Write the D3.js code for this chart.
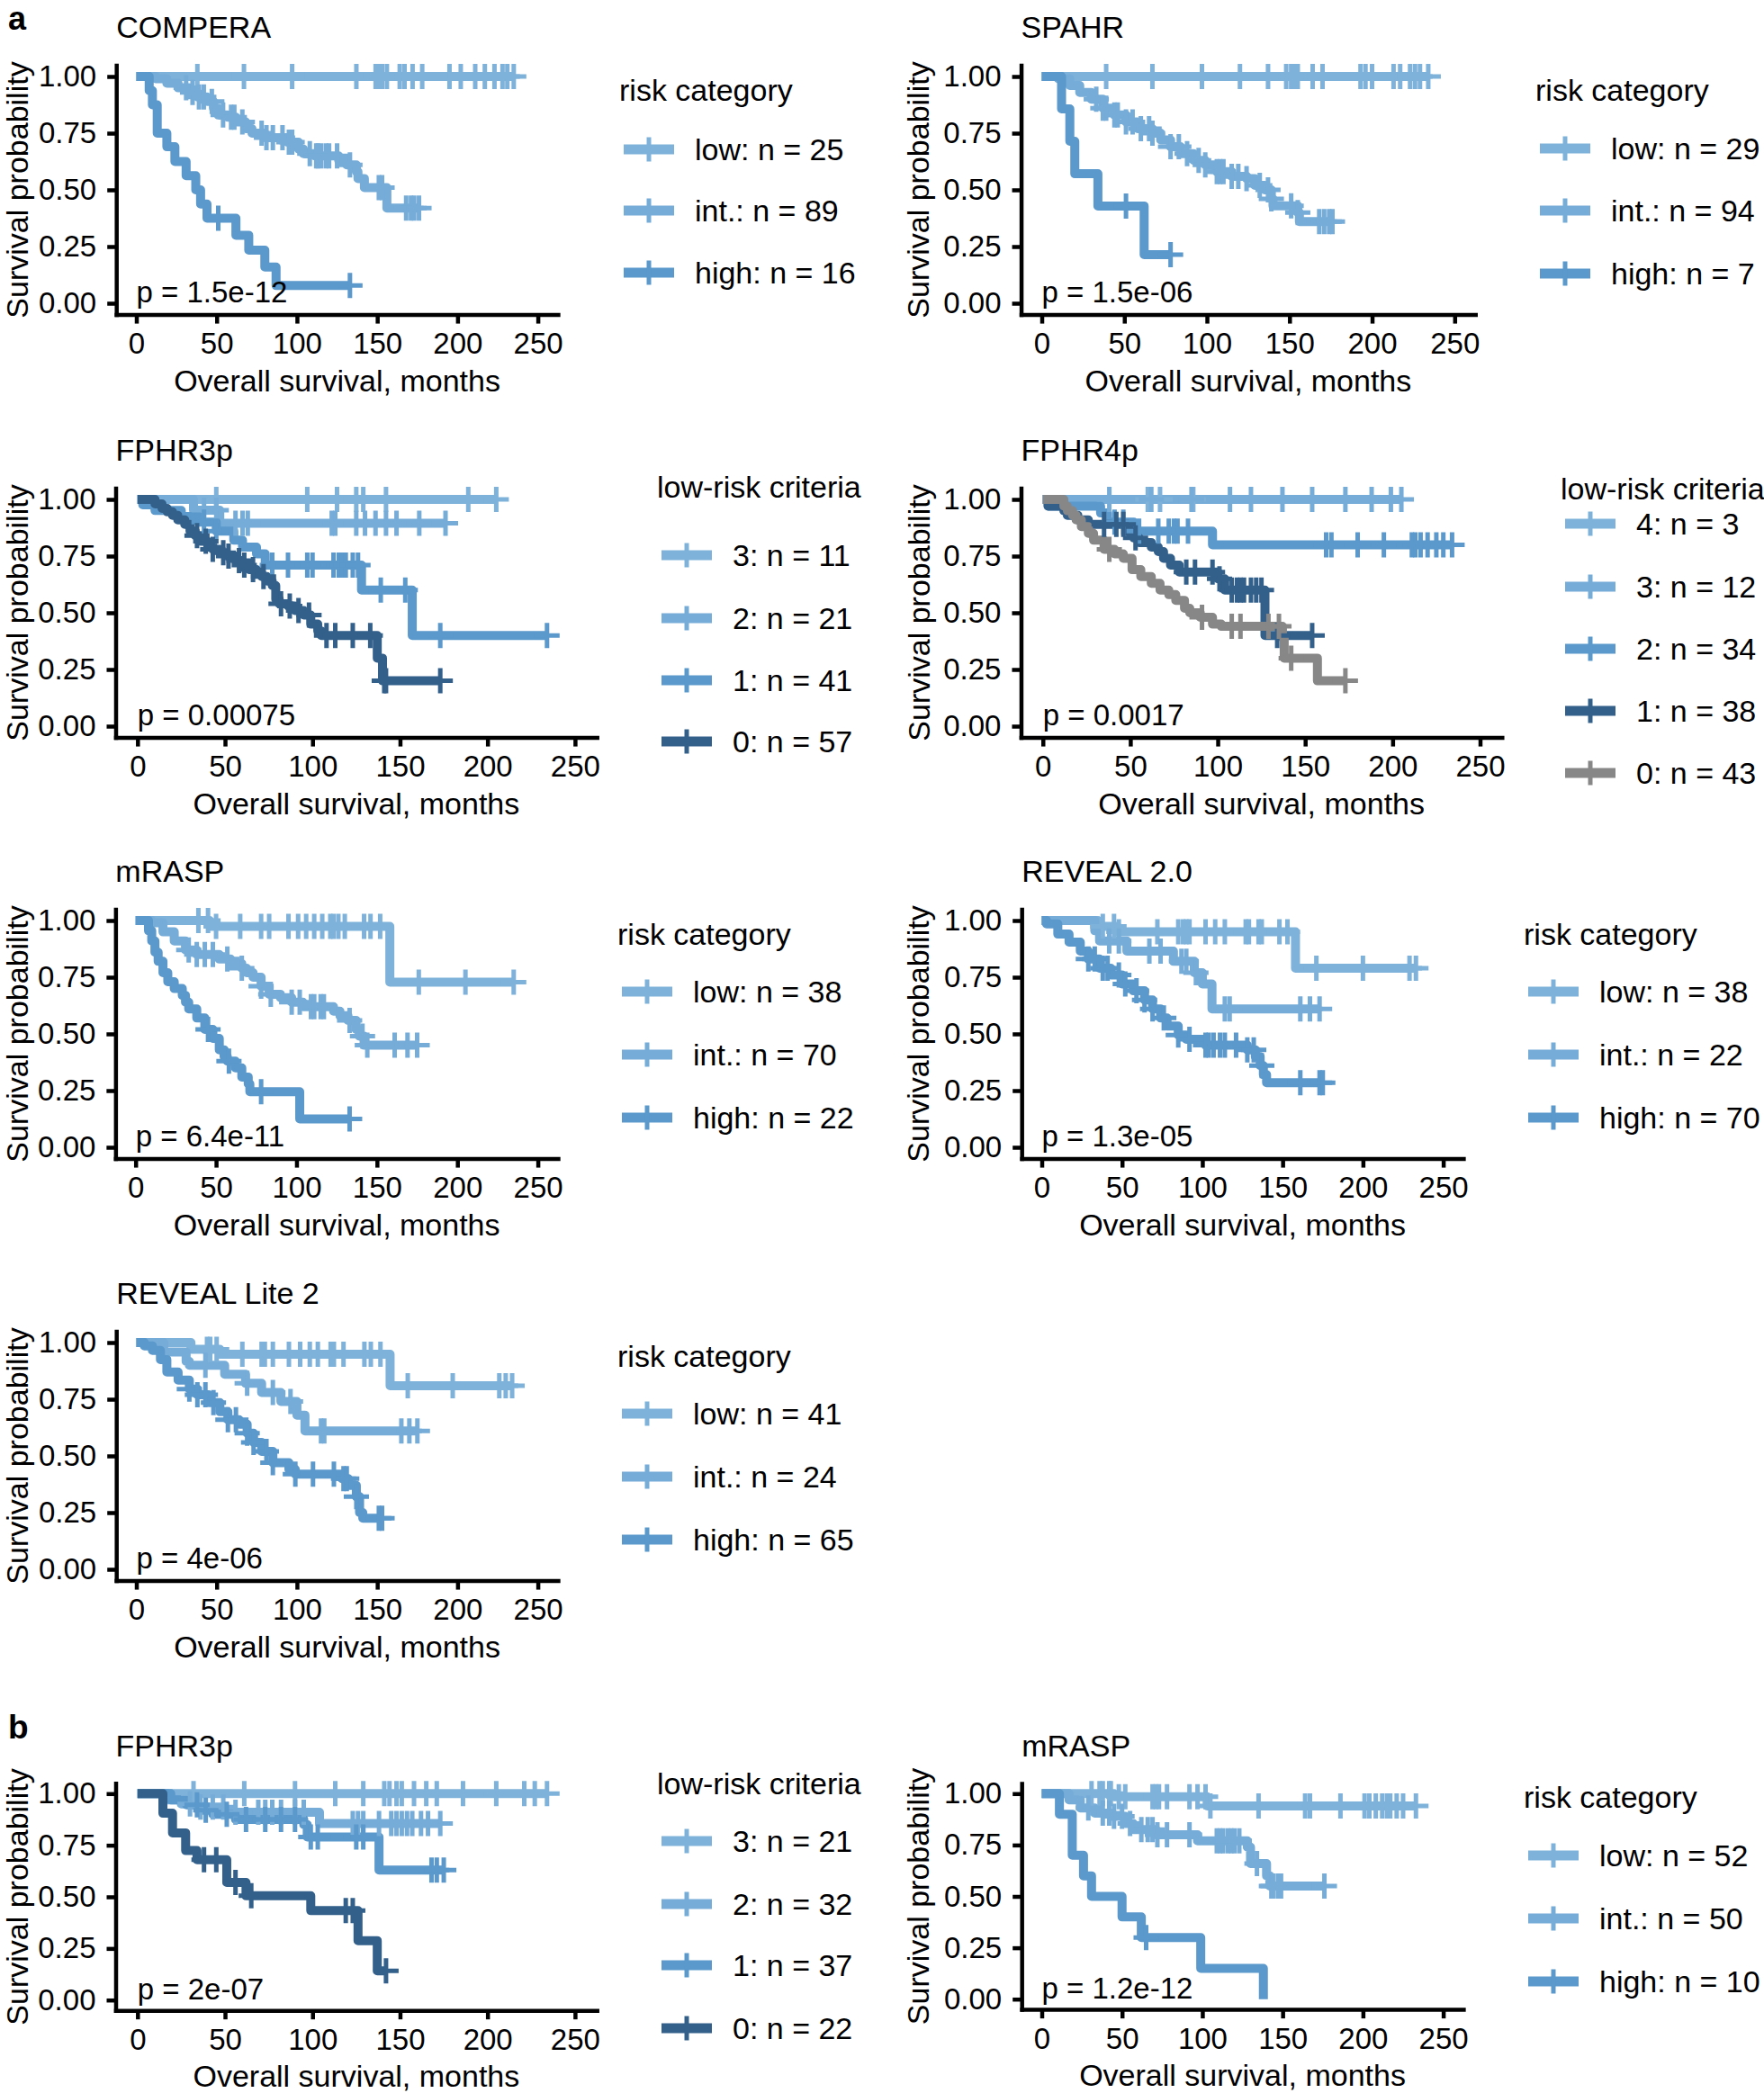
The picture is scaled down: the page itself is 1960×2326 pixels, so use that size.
<!DOCTYPE html>
<html><head><meta charset="utf-8">
<script src="https://cdn.jsdelivr.net/npm/d3@7"></script>
<style>
body{margin:0;background:#fff}
svg{display:block}
text{font-family:"Liberation Sans",Arial,Helvetica,sans-serif;fill:#000}
</style>
</head><body>
<svg id="c" width="1960" height="2326"></svg>
<script>
// ---------------- DATA ----------------
const xTicks = [0, 50, 100, 150, 200, 250];
const yTicks = [0, 0.25, 0.5, 0.75, 1];
const riskColors = ["#7fb2da", "#76acd8", "#5b98cb"];
const crit3Colors = ["#7fb2da", "#76acd8", "#5b98cb", "#33608b"];
const crit4Colors = ["#7fb2da", "#76acd8", "#5b98cb", "#33608b", "#878787"];

// COMPERA
const compera_labels = ["low: n = 25", "int.: n = 89", "high: n = 16"];
const compera_low_steps = [];
const compera_low_cens = [38,67,97,137,149,151,153,156,164,167,172,178,195,202,211,217,223,228,231,235];
const compera_int_steps = [[12,0.99],[19,0.97],[26,0.95],[33,0.93],[38,0.91],[44,0.89],[48,0.86],[51,0.83],[57,0.82],[62,0.80],[68,0.77],[72,0.75],[80,0.73],[94,0.71],[101,0.68],[104,0.66],[111,0.65],[126,0.63],[131,0.61],[137,0.58],[138,0.55],[142,0.51],[156,0.42]];
const compera_int_cens = [31,35,39,42,47,54,59,61,66,78,81,85,91,95,97,108,112,113,115,118,120,125,133,151,153,168,171,173,176];
const compera_high_steps = [[8,0.9375],[10,0.875],[13,0.75],[19,0.69],[24,0.625],[31,0.5625],[37,0.5],[40,0.4375],[44,0.375],[62,0.30],[70,0.234],[80,0.16],[87,0.078]];
const compera_high_cens = [51,133];

// SPAHR
const spahr_labels = ["low: n = 29", "int.: n = 94", "high: n = 7"];
const spahr_low_steps = [];
const spahr_low_cens = [39,67,97,120,137,148,151,153,155,164,170,193,196,200,213,217,223,226,229,234];
const spahr_int_steps = [[10,0.99],[17,0.96],[23,0.93],[30,0.90],[37,0.86],[44,0.83],[51,0.80],[58,0.77],[67,0.75],[72,0.72],[78,0.69],[84,0.66],[92,0.63],[99,0.61],[106,0.58],[115,0.56],[124,0.55],[129,0.52],[135,0.50],[139,0.46],[140,0.43],[155,0.40],[156,0.36]];
const spahr_int_cens = [33,37,39,44,46,51,55,60,65,67,78,83,88,95,99,106,108,110,115,119,124,132,137,139,151,155,168,171,174,176];
const spahr_high_steps = [[12,0.857],[17,0.714],[20,0.571],[34,0.429],[62,0.214]];
const spahr_high_cens = [51,78];

// FPHR3p (a)
const f3_labels = ["3: n = 11", "2: n = 21", "1: n = 41", "0: n = 57"];
const f3_c3_steps = [];
const f3_c3_cens = [45,97,114,125,129,142,189,205];
const f3_c2_steps = [[32,0.952],[47,0.895]];
const f3_c2_cens = [38,45,56,60,63,111,113,125,130,136,142,148,161,176];
const f3_c1_steps = [[3,0.976],[10,0.951],[25,0.925],[35,0.90],[45,0.86],[55,0.82],[60,0.79],[68,0.76],[73,0.71],[128,0.60],[157,0.40]];
const f3_c1_cens = [38,45,77,86,97,100,112,115,117,119,123,126,139,153,173,234];
const f3_c0_steps = [[10,0.98],[14,0.96],[17,0.945],[20,0.93],[23,0.91],[27,0.89],[30,0.86],[33,0.84],[36,0.815],[40,0.80],[43,0.78],[47,0.765],[51,0.75],[56,0.73],[60,0.71],[64,0.69],[68,0.675],[71,0.66],[74,0.64],[77,0.62],[79,0.56],[81,0.54],[86,0.53],[90,0.51],[95,0.49],[99,0.45],[103,0.42],[105,0.40],[137,0.30],[140,0.20]];
const f3_c0_cens = [34,39,43,49,52,58,61,66,72,82,87,92,98,108,113,123,133,141,142,173];

// FPHR4p
const f4_labels = ["4: n = 3", "3: n = 12", "2: n = 34", "1: n = 38", "0: n = 43"];
const f4_c4_steps = [];
const f4_c4_cens = [60,67,86];
const f4_c3_steps = [];
const f4_c3_cens = [38,62,85,107,119,137,154,173,188,199,205];
const f4_c2_steps = [[3,0.97],[33,0.94],[37,0.90],[52,0.86],[97,0.80]];
const f4_c2_cens = [41,46,55,66,72,75,77,83,162,165,180,195,211,213,216,220,225,229,234];
const f4_c1_steps = [[3,0.97],[12,0.95],[14,0.93],[20,0.91],[26,0.89],[49,0.855],[52,0.83],[55,0.81],[62,0.79],[66,0.77],[69,0.74],[73,0.71],[78,0.68],[100,0.65],[104,0.60],[127,0.40]];
const f4_c1_cens = [35,42,46,53,82,87,97,101,108,111,113,115,119,122,125,134,154];
const f4_c0_steps = [[12,0.97],[14,0.95],[17,0.93],[19,0.91],[22,0.88],[26,0.85],[29,0.82],[35,0.78],[41,0.76],[46,0.74],[51,0.69],[56,0.66],[62,0.63],[67,0.60],[72,0.58],[76,0.555],[81,0.52],[84,0.50],[90,0.48],[97,0.45],[102,0.44],[137,0.39],[138,0.30],[157,0.20]];
const f4_c0_cens = [38,91,108,113,129,135,142,173];

// mRASP (a)
const mr_labels = ["low: n = 38", "int.: n = 70", "high: n = 22"];
const mr_low_steps = [[46,0.974],[158,0.728]];
const mr_low_cens = [39,45,50,65,78,83,95,101,106,111,116,121,123,126,130,142,146,152,176,205,235];
const mr_int_steps = [[10,0.99],[17,0.95],[24,0.91],[31,0.87],[38,0.85],[52,0.83],[59,0.81],[66,0.79],[69,0.77],[73,0.75],[78,0.71],[83,0.675],[90,0.66],[97,0.64],[104,0.62],[123,0.60],[127,0.58],[132,0.56],[137,0.52],[139,0.49],[142,0.45]];
const mr_int_cens = [33,38,43,48,57,66,78,84,97,102,109,111,115,117,133,141,144,161,169,175];
const mr_high_steps = [[8,0.955],[10,0.91],[12,0.86],[14,0.82],[17,0.77],[20,0.73],[24,0.70],[29,0.67],[31,0.64],[33,0.61],[38,0.57],[43,0.52],[48,0.48],[52,0.43],[55,0.40],[57,0.38],[62,0.35],[66,0.31],[70,0.28],[71,0.245],[102,0.125]];
const mr_high_cens = [45,58,78,133];

// REVEAL 2.0
const r2_labels = ["low: n = 38", "int.: n = 22", "high: n = 70"];
const r2_low_steps = [[35,0.974],[47,0.95],[158,0.79]];
const r2_low_cens = [38,45,48,72,85,88,90,92,102,108,114,127,129,135,137,148,153,171,200,229,233];
const r2_int_steps = [[33,0.955],[36,0.91],[53,0.865],[82,0.82],[95,0.77],[100,0.72],[106,0.61]];
const r2_int_cens = [42,48,67,74,87,90,96,114,117,161,167,173];
const r2_high_steps = [[3,0.985],[10,0.94],[17,0.905],[24,0.865],[29,0.83],[36,0.79],[43,0.76],[50,0.72],[57,0.69],[64,0.65],[69,0.61],[74,0.57],[78,0.535],[85,0.495],[90,0.476],[102,0.45],[128,0.43],[133,0.40],[136,0.36],[138,0.32],[140,0.285]];
const r2_high_cens = [29,33,38,41,48,52,59,64,69,76,85,92,102,104,107,111,114,121,128,132,137,161,173,175];

// REVEAL Lite 2
const rl_labels = ["low: n = 41", "int.: n = 24", "high: n = 65"];
const rl_low_steps = [[34,0.97],[52,0.948],[158,0.81]];
const rl_low_cens = [44,46,50,66,78,80,85,95,102,108,113,121,123,129,142,146,152,169,197,226,230,234];
const rl_int_steps = [[17,0.958],[31,0.917],[33,0.90],[55,0.86],[68,0.82],[78,0.78],[90,0.74],[100,0.68],[105,0.61]];
const rl_int_cens = [43,69,85,96,115,117,165,170,175];
const rl_high_steps = [[5,0.985],[10,0.965],[15,0.925],[19,0.87],[26,0.834],[33,0.795],[38,0.77],[45,0.735],[52,0.695],[57,0.66],[64,0.64],[69,0.60],[73,0.56],[78,0.52],[85,0.47],[95,0.44],[99,0.42],[128,0.40],[132,0.37],[137,0.32],[139,0.25],[141,0.225]];
const rl_high_cens = [33,38,43,48,57,62,69,73,81,85,99,110,123,129,131,137,151,153];

// FPHR3p (b)
const b3_labels = ["3: n = 21", "2: n = 32", "1: n = 37", "0: n = 22"];
const b3_c3_steps = [];
const b3_c3_cens = [32,61,90,113,129,141,144,148,151,158,165,171,186,205,221,227,234];
const b3_c2_steps = [[17,0.97],[25,0.95],[35,0.935],[50,0.91],[104,0.855]];
const b3_c2_cens = [30,36,43,49,56,69,73,77,82,90,95,123,126,129,138,145,148,151,154,157,162,166,173];
const b3_c1_steps = [[19,0.97],[28,0.946],[35,0.92],[43,0.90],[56,0.875],[95,0.85],[97,0.79],[138,0.63]];
const b3_c1_cens = [34,39,51,62,73,82,90,99,103,125,129,168,171,175];
const b3_c0_steps = [[14.5,0.905],[20,0.81],[27.5,0.724],[34,0.68],[51,0.57],[62,0.505],[99,0.433],[126,0.288],[137,0.142]];
const b3_c0_cens = [38,45,56,65,119,123,142];

// mRASP (b)
const bm_labels = ["low: n = 52", "int.: n = 50", "high: n = 10"];
const bm_low_steps = [[45,0.985],[103,0.94]];
const bm_low_cens = [31,36,38,42,43,48,52,69,71,73,78,92,97,102,105,135,164,167,186,201,204,208,212,215,217,221,225,233];
const bm_int_steps = [[17,0.97],[24,0.93],[33,0.905],[43,0.89],[52,0.855],[57,0.825],[71,0.80],[97,0.77],[128,0.74],[130,0.66],[140,0.60],[142,0.55]];
const bm_int_cens = [29,38,42,45,50,55,62,66,69,72,78,92,109,111,113,116,118,120,123,134,143,144,147,149,176];
const bm_high_steps = [[11,0.9],[19,0.7],[26,0.6],[31,0.5],[50,0.4],[62,0.3],[99,0.15],[138,0]];
const bm_high_cens = [65];

// ---------------- LAYOUT ----------------
const panels = [
  {title:"COMPERA", p:"p = 1.5e-12", x0:151.5, x250:597.6, y1:85, y0:337, ytx:31,
   legTitle:"risk category", labels:compera_labels, colors:riskColors,
   curves:[[compera_low_steps,compera_low_cens],[compera_int_steps,compera_int_cens],[compera_high_steps,compera_high_cens]],
   leg:{x:688, ty:112, items:[166,234,303]}},
  {title:"SPAHR", p:"p = 1.5e-06", x0:1157.5, x250:1616.3, y1:85, y0:337, ytx:1032,
   legTitle:"risk category", labels:spahr_labels, colors:riskColors,
   curves:[[spahr_low_steps,spahr_low_cens],[spahr_int_steps,spahr_int_cens],[spahr_high_steps,spahr_high_cens]],
   leg:{x:1706, ty:112, items:[165,234,304]}},
  {title:"FPHR3p", p:"p = 0.00075", x0:152.8, x250:638.9, y1:555, y0:807, ytx:31,
   legTitle:"low-risk criteria", labels:f3_labels, colors:crit3Colors,
   curves:[[f3_c3_steps,f3_c3_cens],[f3_c2_steps,f3_c2_cens],[f3_c1_steps,f3_c1_cens],[f3_c0_steps,f3_c0_cens]],
   leg:{x:730, ty:553, items:[617,687,756,824]}},
  {title:"FPHR4p", p:"p = 0.0017", x0:1158.75, x250:1644.5, y1:555, y0:807, ytx:1033,
   legTitle:"low-risk criteria", labels:f4_labels, colors:crit4Colors,
   curves:[[f4_c4_steps,f4_c4_cens],[f4_c3_steps,f4_c3_cens],[f4_c2_steps,f4_c2_cens],[f4_c1_steps,f4_c1_cens],[f4_c0_steps,f4_c0_cens]],
   leg:{x:1734, ty:555, items:[582,652,721,790,859]}},
  {title:"mRASP", p:"p = 6.4e-11", x0:150.7, x250:597.6, y1:1023, y0:1275, ytx:31,
   legTitle:"risk category", labels:mr_labels, colors:riskColors,
   curves:[[mr_low_steps,mr_low_cens],[mr_int_steps,mr_int_cens],[mr_high_steps,mr_high_cens]],
   leg:{x:686, ty:1050, items:[1102,1172,1242]}},
  {title:"REVEAL 2.0", p:"p = 1.3e-05", x0:1157.5, x250:1603.6, y1:1023, y0:1275, ytx:1032,
   legTitle:"risk category", labels:r2_labels, colors:riskColors,
   curves:[[r2_low_steps,r2_low_cens],[r2_int_steps,r2_int_cens],[r2_high_steps,r2_high_cens]],
   leg:{x:1693, ty:1050, items:[1102,1172,1242]}},
  {title:"REVEAL Lite 2", p:"p = 4e-06", x0:151.5, x250:597.6, y1:1492, y0:1744, ytx:31,
   legTitle:"risk category", labels:rl_labels, colors:riskColors,
   curves:[[rl_low_steps,rl_low_cens],[rl_int_steps,rl_int_cens],[rl_high_steps,rl_high_cens]],
   leg:{x:686, ty:1519, items:[1571,1641,1711]}},
  {title:"FPHR3p", p:"p = 2e-07", x0:152.8, x250:638.9, y1:1993.3, y0:2222.7, ytx:31,
   legTitle:"low-risk criteria", labels:b3_labels, colors:crit3Colors,
   curves:[[b3_c3_steps,b3_c3_cens],[b3_c2_steps,b3_c2_cens],[b3_c1_steps,b3_c1_cens],[b3_c0_steps,b3_c0_cens]],
   leg:{x:730, ty:1994, items:[2046,2116,2184,2254]}},
  {title:"mRASP", p:"p = 1.2e-12", x0:1157.5, x250:1603.6, y1:1993.3, y0:2221.7, ytx:1032,
   legTitle:"risk category", labels:bm_labels, colors:riskColors,
   curves:[[bm_low_steps,bm_low_cens],[bm_int_steps,bm_int_cens],[bm_high_steps,bm_high_cens]],
   leg:{x:1693, ty:2009, items:[2062,2132,2202]}}
];

const FONT = 34, TICKFONT = 33, LW = 10, CENS = 14, CENSW = 5, AXW = 4.5;

const svg = d3.select("#c");
svg.append("rect").attr("width",1960).attr("height",2326).attr("fill","#fff");

svg.append("text").attr("x",9).attr("y",33).attr("font-size",36).attr("font-weight","bold").text("a");
svg.append("text").attr("x",9).attr("y",1932).attr("font-size",37).attr("font-weight","bold").text("b");

function survAt(steps, t){ let s = 1; for (const [tt,v] of steps) if (tt <= t) s = v; return s; }

panels.forEach(p => {
  const dx = 0.05*(p.x250 - p.x0), dy = 0.05*(p.y0 - p.y1);
  const x = d3.scaleLinear().domain([-12.5, 262.5]).range([p.x0 - dx, p.x250 + dx]);
  const y = d3.scaleLinear().domain([-0.05, 1.05]).range([p.y0 + dy, p.y1 - dy]);
  const left = x(-12.5), top = y(1.05), bottom = y(-0.05);
  const g = svg.append("g");

  // curves
  const line = d3.line().x(d => x(d[0])).y(d => y(d[1])).curve(d3.curveStepAfter);
  p.curves.forEach(([steps, cens], i) => {
    const pts = [[0,1], ...steps];
    const tEnd = Math.max(steps.length ? steps[steps.length-1][0] : 0, cens.length ? d3.max(cens) : 0);
    pts.push([tEnd, pts[pts.length-1][1]]);
    g.append("path").attr("d", line(pts)).attr("fill","none")
      .attr("stroke", p.colors[i]).attr("stroke-width", LW)
      .attr("stroke-linejoin","round").attr("stroke-linecap","butt");
  });
  p.curves.forEach(([steps, cens], i) => {
    g.selectAll(null).data(cens).enter().append("path")
      .attr("transform", t => `translate(${x(t)},${y(survAt(steps, t))})`)
      .attr("d", `M${-CENS},0H${CENS}M0,${-CENS}V${CENS}`)
      .attr("stroke", p.colors[i]).attr("stroke-width", CENSW).attr("fill","none");
  });

  // axes
  const gx = g.append("g").attr("transform", `translate(0,${bottom})`)
    .call(d3.axisBottom(x).tickValues(xTicks).tickSize(10).tickSizeOuter(0).tickPadding(10));
  const gy = g.append("g").attr("transform", `translate(${left},0)`)
    .call(d3.axisLeft(y).tickValues(yTicks).tickFormat(d3.format(".2f")).tickSize(10).tickSizeOuter(0).tickPadding(12));
  [gx, gy].forEach(a => {
    a.attr("font-size", null).attr("font-family", null);
    a.select(".domain").attr("stroke","#000").attr("stroke-width",AXW).attr("stroke-linecap","square");
    a.selectAll(".tick line").attr("stroke","#000").attr("stroke-width",AXW);
    a.selectAll(".tick text").attr("font-size",TICKFONT).attr("fill","#000");
  });

  // texts
  g.append("text").attr("x", left).attr("y", top - 30).attr("font-size", FONT).text(p.title);
  g.append("text").attr("x", x(0)).attr("y", y(0) - 1).attr("font-size", TICKFONT).text(p.p);
  g.append("text").attr("x", (x(0)+x(250))/2).attr("y", bottom + 85).attr("font-size", FONT)
    .attr("text-anchor","middle").text("Overall survival, months");
  g.append("text").attr("transform", `translate(${p.ytx},${(top+bottom)/2}) rotate(-90)`)
    .attr("font-size", FONT).attr("text-anchor","middle").text("Survival probability");

  // legend
  const L = p.leg;
  g.append("text").attr("x", L.x).attr("y", L.ty).attr("font-size", FONT).text(p.legTitle);
  p.labels.forEach((lab, i) => {
    const cy = L.items[i];
    g.append("line").attr("x1", L.x + 5).attr("x2", L.x + 61).attr("y1", cy).attr("y2", cy)
      .attr("stroke", p.colors[i]).attr("stroke-width", 11);
    g.append("line").attr("x1", L.x + 33).attr("x2", L.x + 33).attr("y1", cy - 13.5).attr("y2", cy + 13.5)
      .attr("stroke", p.colors[i]).attr("stroke-width", 5);
    g.append("text").attr("x", L.x + 84).attr("y", cy + 11.5).attr("font-size", FONT).text(lab);
  });
});
</script>
</body></html>
